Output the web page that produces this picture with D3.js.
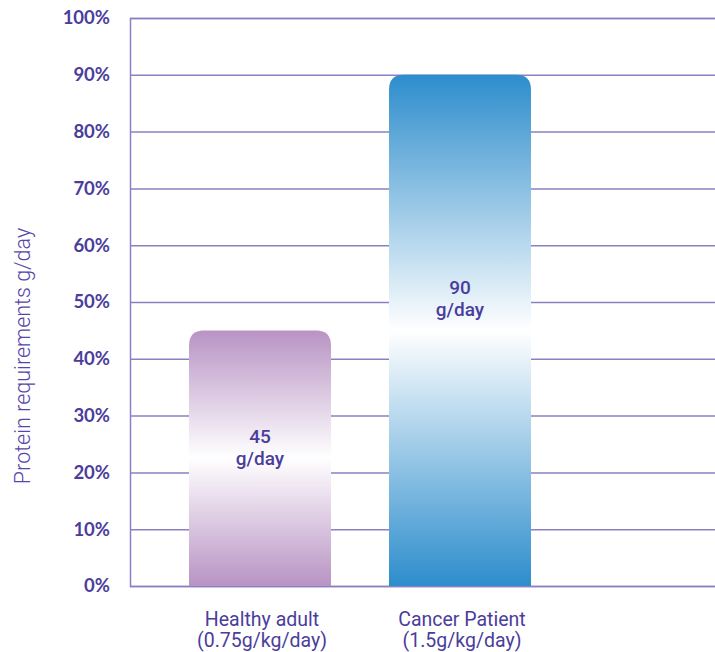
<!DOCTYPE html>
<html>
<head>
<meta charset="utf-8">
<script src="https://cdn.jsdelivr.net/npm/d3@7"></script>
<style>
  html, body { margin: 0; padding: 0; background: #fff; }
  svg { display: block; }
</style>
</head>
<body>
<svg id="chart" width="715" height="652"></svg>
<script>
// Protein requirement per group
const categories = ["Healthy adult", "Cancer Patient"];
const subLabels = ["(0.75g/kg/day)", "(1.5g/kg/day)"];
const values = [45, 90];
const valueUnit = "g/day";
const tickValues = [0, 10, 20, 30, 40, 50, 60, 70, 80, 90, 100];
const yTitle = "Protein requirements g/day";

const svg = d3.select("#chart");
const W = 715, H = 652;
const margin = { top: 18, right: 0, bottom: 66, left: 130 };
const inkDark = "#4a3d9c";
const gridCol = "#8b80c2";

const y = d3.scaleLinear().domain([0, 100]).range([H - margin.bottom, margin.top]);
const x = d3.scaleBand().domain(categories).range([160, 560]).paddingInner(0.29).paddingOuter(0.145);

// gradients: saturated at the ends, white through the middle
const defs = svg.append("defs");
const palettes = [
  { id: "gPurple", end: "#b893c4", mid: "#ffffff" },
  { id: "gBlue", end: "#2d8dcc", mid: "#ffffff" }
];
palettes.forEach(p => {
  const g = defs.append("linearGradient").attr("id", p.id)
    .attr("x1", 0).attr("y1", 0).attr("x2", 0).attr("y2", 1);
  g.append("stop").attr("offset", "0%").attr("stop-color", p.end);
  g.append("stop").attr("offset", "50%").attr("stop-color", p.mid);
  g.append("stop").attr("offset", "100%").attr("stop-color", p.end);
});

// grid lines
const yAxis = d3.axisLeft(y).tickValues(tickValues).tickSize(-(W - margin.left)).tickFormat(d => d + "%");
const gAxis = svg.append("g").attr("transform", `translate(${margin.left},0)`).call(yAxis);
gAxis.select(".domain").attr("stroke", gridCol).attr("stroke-width", 1.5);
gAxis.selectAll(".tick line").attr("stroke", gridCol).attr("stroke-width", 1.5);
gAxis.selectAll(".tick text")
  .attr("x", -20)
  .attr("fill", inkDark)
  .style("font-family", "Lato, 'Noto Sans', sans-serif")
  .style("font-weight", 700)
  .style("font-size", "18.5px");

// bars with rounded top corners
const r = 15;
function barPath(x0, w, yTop, yBase) {
  return `M${x0},${yBase} L${x0},${yTop + r} Q${x0},${yTop} ${x0 + r},${yTop} ` +
         `L${x0 + w - r},${yTop} Q${x0 + w},${yTop} ${x0 + w},${yTop + r} L${x0 + w},${yBase} Z`;
}
svg.append("g").selectAll("path").data(values).join("path")
  .attr("d", (d, i) => barPath(x(categories[i]), x.bandwidth(), y(d), y(0)))
  .attr("fill", (d, i) => `url(#${palettes[i].id})`);

// value labels inside bars, a little above the bar's middle
const vl = svg.append("g").selectAll("text").data(values).join("text")
  .attr("x", (d, i) => x(categories[i]) + x.bandwidth() / 2)
  .attr("y", d => y(d) + 0.415 * (y(0) - y(d)))
  .attr("text-anchor", "middle")
  .attr("fill", inkDark)
  .style("font-family", "Roboto, 'Noto Sans', sans-serif")
  .style("font-weight", 500)
  .style("font-size", "19px");
vl.append("tspan").attr("x", function () { return this.parentNode.getAttribute("x"); })
  .attr("dy", "0.35em").text(d => d);
vl.append("tspan").attr("x", function () { return this.parentNode.getAttribute("x"); })
  .attr("dy", 22).text(valueUnit);

// category labels
const cl = svg.append("g").selectAll("text").data(categories).join("text")
  .attr("x", d => x(d) + x.bandwidth() / 2 + 2)
  .attr("y", 626)
  .attr("text-anchor", "middle")
  .attr("fill", inkDark)
  .style("font-family", "Roboto, 'Noto Sans', sans-serif")
  .style("font-size", "19.5px");
cl.append("tspan").attr("x", d => x(d) + x.bandwidth() / 2 + 2).text(d => d);
cl.append("tspan").attr("x", d => x(d) + x.bandwidth() / 2 + 2).attr("dy", 21).text((d, i) => subLabels[i]);

// y-axis title
svg.append("text")
  .attr("transform", `translate(30,${(y(0) + y(100)) / 2 + 54}) rotate(-90)`)
  .attr("text-anchor", "middle")
  .attr("fill", "#5646a8")
  .style("font-family", "Roboto, 'Noto Sans', sans-serif")
  .style("font-weight", 300)
  .style("font-size", "21.5px")
  .text(yTitle);
</script>
</body>
</html>
